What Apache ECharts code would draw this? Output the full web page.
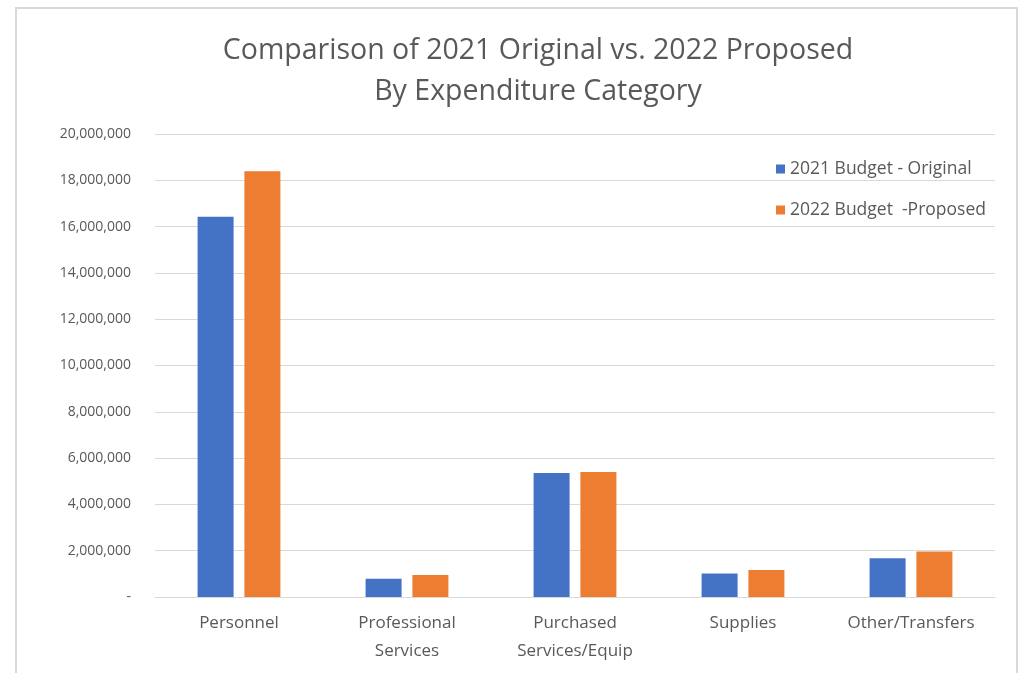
<!DOCTYPE html>
<html>
<head>
<meta charset="utf-8">
<script src="https://cdn.jsdelivr.net/npm/echarts@6/dist/echarts.min.js"></script>
<style>
  html, body { margin: 0; padding: 0; background: #fff; overflow: hidden; }
  #frame { position: absolute; left: 15px; top: 7px; width: 1003px; height: 700px;
           border: 2px solid #d9d9d9; box-sizing: border-box; }
  #chart { position: absolute; left: 0; top: 0; width: 1025px; height: 673px; }
</style>
</head>
<body>
<div id="frame"></div>
<div id="chart"></div>
<script>
// Expenditure categories and budget amounts (dollars)
const categories = ['Personnel', 'Professional\nServices', 'Purchased\nServices/Equip', 'Supplies', 'Other/Transfers'];
const budget2021Original = [16430000, 790000, 5360000, 1020000, 1670000];
const budget2022Proposed = [18390000, 950000, 5400000, 1170000, 1970000];
const seriesNames = ['2021 Budget - Original', '2022 Budget  -Proposed'];

const textColor = '#595959';
const font = 'Open Sans';

const chart = echarts.init(document.getElementById('chart'));
chart.setOption({
  animation: false,
  title: {
    text: 'Comparison of 2021 Original vs. 2022 Proposed\nBy Expenditure Category',
    left: 533, textAlign: 'center', top: 25,
    textStyle: { fontFamily: font, fontSize: 28.5, fontWeight: 'normal', color: textColor, lineHeight: 41 }
  },
  legend: {
    orient: 'vertical', left: 771, top: 155, itemGap: 23,
    itemWidth: 9, itemHeight: 9, icon: 'rect',
    textStyle: { fontFamily: font, fontSize: 17.5, color: textColor }
  },
  grid: { left: 155, right: 30, top: 134, bottom: 76 },
  xAxis: {
    type: 'category', data: categories,
    axisLine: { lineStyle: { color: '#d9d9d9', width: 1 } },
    axisTick: { show: false },
    axisLabel: { fontFamily: font, fontSize: 17, color: textColor, margin: 12, lineHeight: 28 }
  },
  yAxis: {
    type: 'value', min: 0, max: 20000000, interval: 2000000,
    axisLine: { show: false }, axisTick: { show: false },
    splitLine: { lineStyle: { color: '#d9d9d9', width: 1 } },
    axisLabel: {
      fontFamily: font, fontSize: 14, color: textColor, margin: 24,
      formatter: v => v === 0 ? '-' : v.toLocaleString('en-US')
    }
  },
  series: [
    { name: seriesNames[0], type: 'bar', data: budget2021Original, barWidth: 36, barGap: '30%',
      itemStyle: { color: '#4472c4' } },
    { name: seriesNames[1], type: 'bar', data: budget2022Proposed, barWidth: 36,
      itemStyle: { color: '#ed7d31' } }
  ]
});
</script>
</body>
</html>
